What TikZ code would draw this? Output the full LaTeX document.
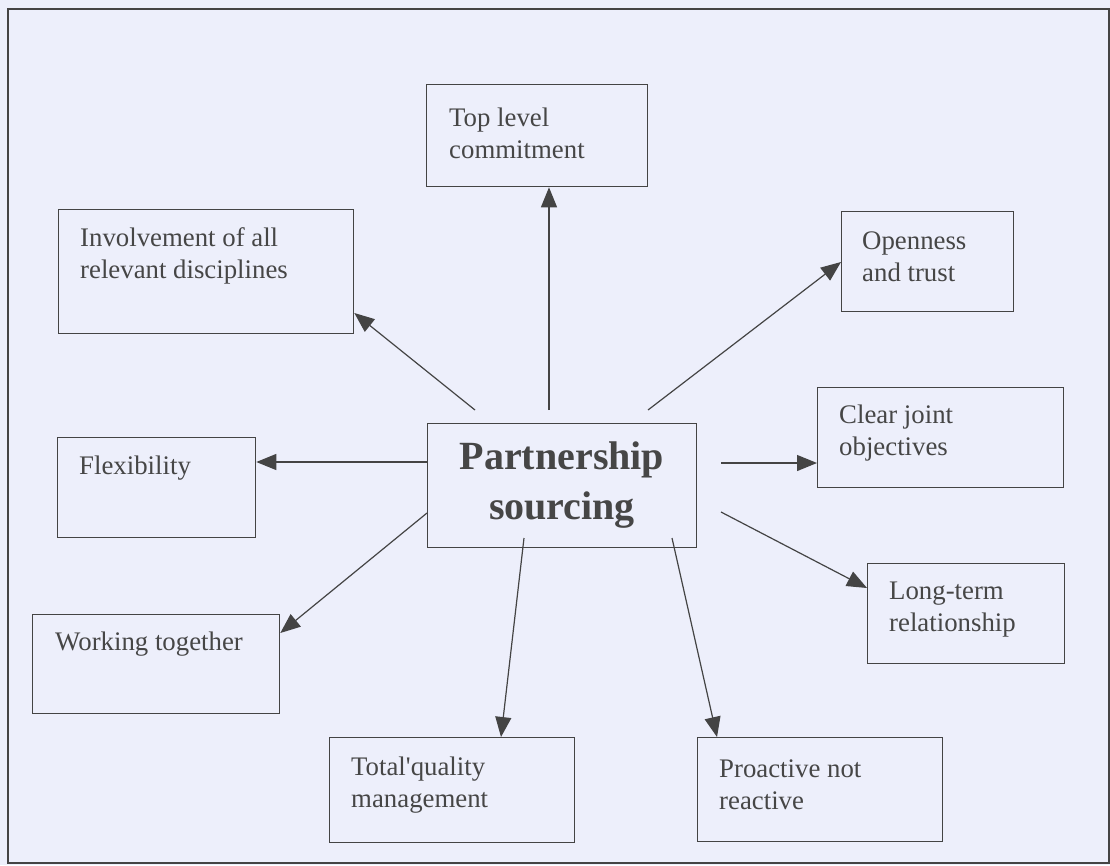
\documentclass[tikz,border=0pt]{standalone}
\usepackage{fontspec}
\setmainfont{Liberation Serif}
\usetikzlibrary{arrows.meta,calc}
\definecolor{paper}{RGB}{237,239,251}
\definecolor{ink}{RGB}{68,68,68}
\definecolor{txt}{RGB}{70,70,70}
\begin{document}
\begin{tikzpicture}[x=1pt,y=-1pt,
  box/.style={draw=ink,line width=1.3pt,rectangle,inner sep=0pt,anchor=north west},
  lbl/.style={text=txt,font=\fontsize{26.8}{32}\selectfont,align=left,anchor=west,inner sep=0pt},
  hub/.style={text=txt,font=\fontsize{40}{50}\selectfont\bfseries,align=center,inner sep=0pt},
  link/.style={draw=ink,line width=1.2pt,-{Triangle[length=20pt,width=16pt]}}]
% page and frame
\fill[paper] (0,0) rectangle (1110,865);
\useasboundingbox (0,0) rectangle (1110,865);
\draw[ink,line width=1.6pt] (8,9) rectangle (1109,863);

% boxes
\node[box,minimum width=221pt,minimum height=102pt] (tlc) at (426,84) {};
\node[box,minimum width=295pt,minimum height=124pt] (inv) at (58,209) {};
\node[box,minimum width=172pt,minimum height=100pt] (opn) at (841,211) {};
\node[box,minimum width=246pt,minimum height=100pt] (cjo) at (817,387) {};
\node[box,minimum width=269pt,minimum height=124pt] (cen) at (427,423) {};
\node[box,minimum width=198pt,minimum height=100pt] (flx) at (57,437) {};
\node[box,minimum width=247pt,minimum height=99pt] (wt) at (32,614) {};
\node[box,minimum width=197pt,minimum height=100pt] (ltr) at (867,563) {};
\node[box,minimum width=245pt,minimum height=105pt] (tqm) at (329,737) {};
\node[box,minimum width=245pt,minimum height=104pt] (pnr) at (697,737) {};

% texts
\node[lbl] (tlcT) at (449,133) {Top level\\commitment};
\node[lbl] (invT) at (80,256) {Involvement of all\\relevant disciplines};
\node[lbl] (opnT) at (862,257) {Openness\\and trust};
\node[lbl] (cjoT) at (839,433) {Clear joint\\objectives};
\node[hub] (cenT) at (562,485) {Partnership\\sourcing};
\node[lbl] (flxT) at (79,468) {Flexibility};
\node[lbl] (wtT) at (55,644) {Working together};
\node[lbl] (ltrT) at (889,610) {Long-term\\relationship};
\node[lbl] (tqmT) at (351,785) {Total\textquotesingle quality\\management};
\node[lbl] (pnrT) at (719,785) {Proactive not\\reactive};

% start points of the spokes
\coordinate (s1) at (549,410);
\coordinate (s2) at (475,410);
\coordinate (s3) at (648,410);
\coordinate (s5) at (721,463);
\coordinate (s6) at (721,512);
\coordinate (s8) at (524,538);
\coordinate (s9) at (672,538);

% spokes
\draw[link] (s1) -- (tlc.south -| s1);
\draw[link] (s2) -- (inv.east |- 0,313);
\draw[link] (s3) -- (opn.west |- 0,262);
\draw[link] (cen.west |- 0,462) -- (flx.east |- 0,462);
\draw[link] (s5) -- (cjo.west |- s5);
\draw[link] (s6) -- (ltr.west |- 0,588);
\draw[link] (cen.west |- 0,513) -- (wt.east |- 0,633);
\draw[link] (s8) -- (501,0 |- tqm.north);
\draw[link] (s9) -- (717,0 |- pnr.north);
\end{tikzpicture}
\end{document}
